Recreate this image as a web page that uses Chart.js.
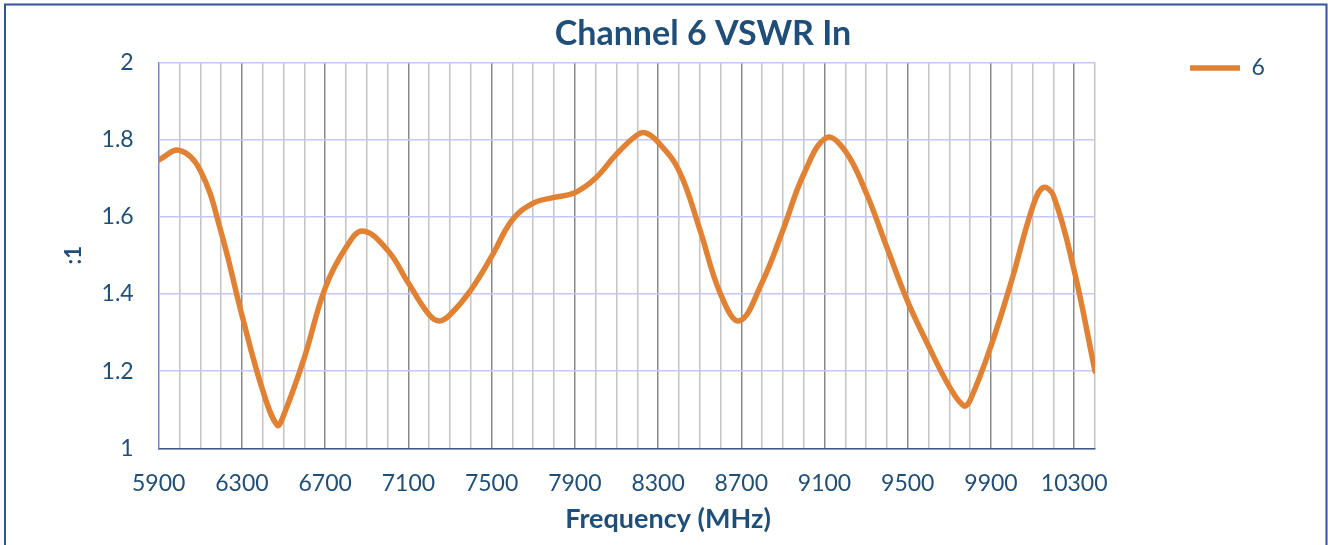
<!DOCTYPE html>
<html lang="en">
<head>
  <meta charset="UTF-8">
  <title>Channel 6 VSWR In</title>
  <script src="https://cdn.jsdelivr.net/npm/chart.js"></script>
  <style>
    body { margin: 0; background: #fff; }
  </style>
</head>
<body>
  <canvas id="vswrChart" width="1328" height="545"></canvas>

  <script>
    // frequency (MHz) and VSWR values
    const freqMHz = [5900, 6000, 6100, 6200, 6300, 6400, 6470, 6500, 6600, 6700,
      6800, 6880, 7000, 7100, 7200, 7250, 7300, 7400, 7500, 7600,
      7700, 7800, 7900, 8000, 8100, 8200, 8240, 8300, 8400, 8500,
      8600, 8690, 8800, 8900, 9000, 9110, 9200, 9300, 9400, 9500,
      9600, 9700, 9770, 9800, 9900, 10000, 10100, 10150, 10200, 10300,
      10400];
    const vswr = [1.747, 1.772, 1.72, 1.56, 1.345, 1.15, 1.06, 1.085, 1.235, 1.415,
      1.52, 1.563, 1.513, 1.428, 1.346, 1.33, 1.346, 1.41, 1.497, 1.592,
      1.635, 1.65, 1.662, 1.70, 1.762, 1.812, 1.817, 1.793, 1.72, 1.568,
      1.40, 1.33, 1.43, 1.565, 1.71, 1.805, 1.77, 1.662, 1.52, 1.38,
      1.265, 1.16, 1.11, 1.125, 1.265, 1.436, 1.625, 1.675, 1.655, 1.46,
      1.20];
    const xTickLabels = [5900, 6300, 6700, 7100, 7500, 7900, 8300, 8700, 9100, 9500, 9900, 10300];
    const seriesName = '6';

    const textColor = '#1f4e79';
    const lineColor = '#e08134';
    const fontFamily = 'Lato, "Open Sans", sans-serif';

    // frame, chart title and x axis title (placed where the original has them)
    const decorations = {
      id: 'decorations',
      afterLayout(chart) {
        const lg = chart.legend;
        const pad = lg.options.labels.padding;
        const dx = 1190 - (lg.left + pad);
        const dy = 56.5 - (lg.top + pad);
        lg.left += dx; lg.right += dx;
        lg.top += dy; lg.bottom += dy;
      },
      afterDraw(chart) {
        const ctx = chart.ctx;
        ctx.save();
        ctx.strokeStyle = '#2f5597';
        ctx.lineWidth = 2;
        ctx.beginPath();
        ctx.moveTo(5, 545);
        ctx.lineTo(5, 4.5);
        ctx.lineTo(1326.5, 4.5);
        ctx.lineTo(1326.5, 545);
        ctx.stroke();

        ctx.fillStyle = textColor;
        ctx.textAlign = 'center';
        ctx.textBaseline = 'alphabetic';
        ctx.font = 'bold 34px ' + fontFamily;
        ctx.fillText('Channel 6 VSWR In', 703, 45);
        ctx.font = 'bold 27px ' + fontFamily;
        ctx.fillText('Frequency (MHz)', 668, 528);
        ctx.restore();
      }
    };

    new Chart(document.getElementById('vswrChart'), {
      type: 'line',
      data: {
        datasets: [{
          label: seriesName,
          data: freqMHz.map((f, i) => ({ x: f, y: vswr[i] })),
          borderColor: lineColor,
          backgroundColor: lineColor,
          borderWidth: 5.5,
          borderCapStyle: 'round',
          borderJoinStyle: 'round',
          pointRadius: 0,
          tension: 0.4,
          fill: false
        }]
      },
      options: {
        responsive: false,
        animation: false,
        layout: { padding: { top: 62.3, left: 0, right: 0, bottom: 0 } },
        plugins: {
          title: { display: false },
          tooltip: { enabled: false },
          legend: {
            position: 'right',
            align: 'start',
            maxWidth: 233,
            labels: {
              padding: 150,
              usePointStyle: true,
              pointStyle: 'line',
              pointStyleWidth: 50,
              color: textColor,
              font: { family: fontFamily, size: 23 }
            }
          }
        },
        scales: {
          x: {
            type: 'linear',
            min: 5900,
            max: 10400,
            afterFit: s => { s.height = 96.7; },
            ticks: {
              stepSize: 100,
              autoSkip: false,
              maxRotation: 0,
              includeBounds: false,
              padding: 21,
              color: textColor,
              font: { family: fontFamily, size: 23 },
              callback: v => xTickLabels.includes(v) ? String(v) : ''
            },
            grid: {
              drawTicks: false,
              lineWidth: 1.5,
              color: c => xTickLabels.includes(c.tick.value) ? '#8a8a8a' : '#c4c4c4'
            },
            border: { color: '#3d5a87', width: 1.5 }
          },
          y: {
            min: 1,
            max: 2,
            afterFit: s => { s.width = 158.7; },
            ticks: {
              stepSize: 0.2,
              padding: 25,
              color: textColor,
              font: { family: fontFamily, size: 23 },
              callback: v => String(Math.round(v * 10) / 10)
            },
            grid: { drawTicks: false, lineWidth: 1.5, color: '#c6c6fa' },
            border: { color: '#7088b2', width: 1 },
            title: {
              display: true,
              text: ':1',
              color: textColor,
              font: { family: fontFamily, size: 22, weight: 'bold' },
              padding: { top: 61, bottom: 0 }
            }
          }
        }
      },
      plugins: [decorations]
    });
  </script>
</body>
</html>
